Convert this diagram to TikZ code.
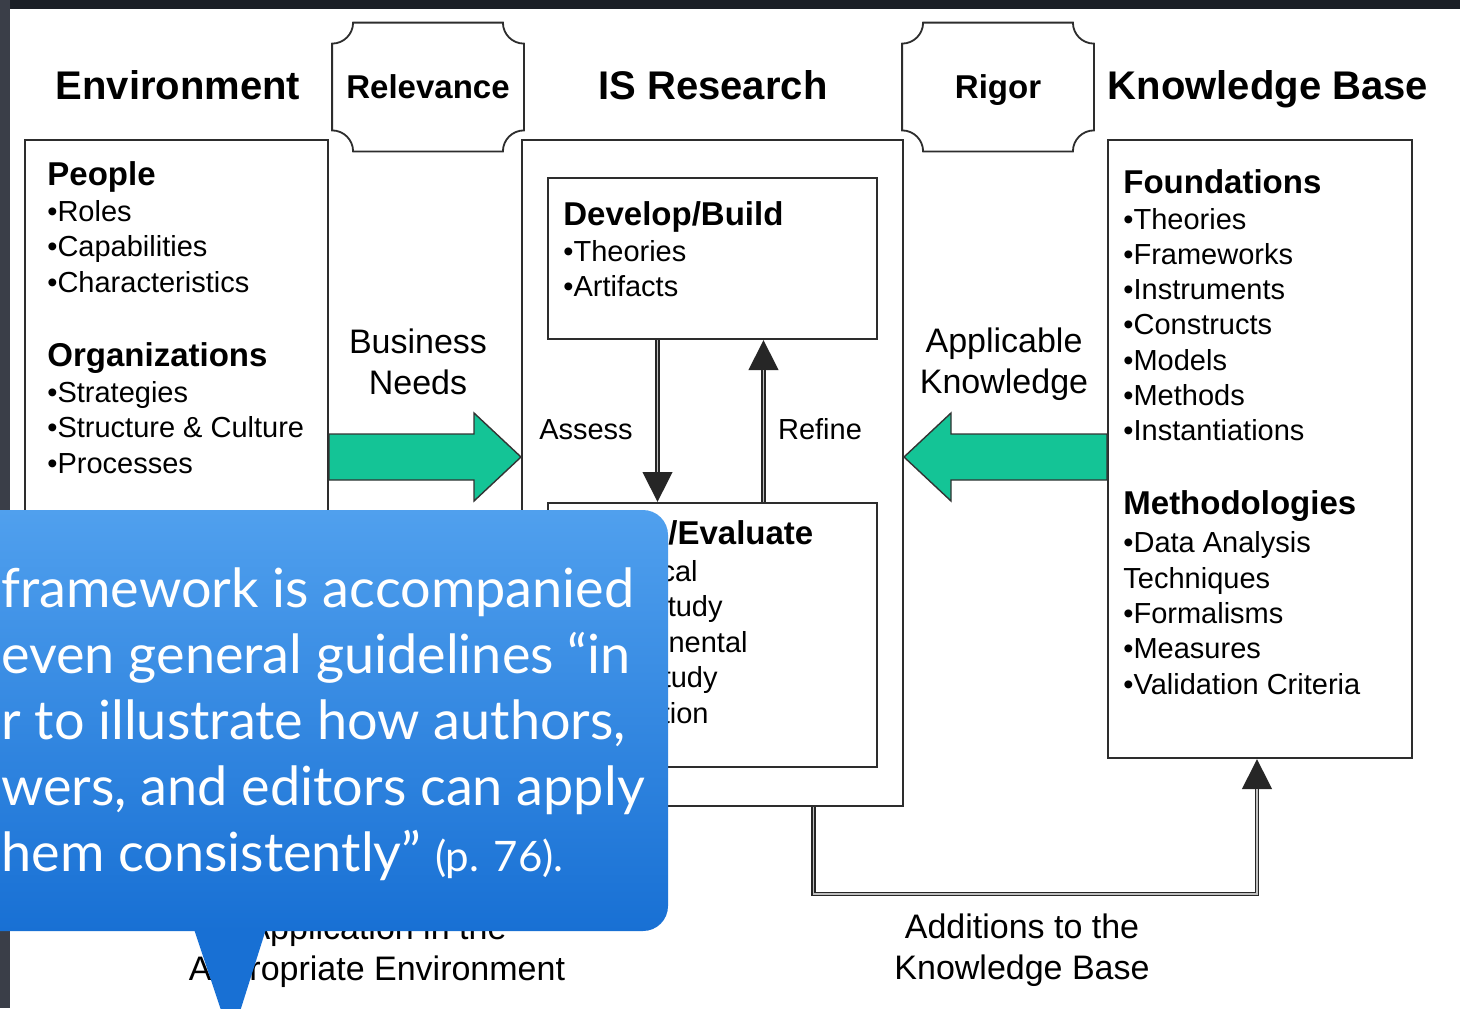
\documentclass[tikz,border=0pt]{standalone}
\usepackage{fontspec}
\setmainfont{Liberation Sans}
\newfontfamily\calloutfont{Lato}
\usepackage{xcolor}
\definecolor{arrowgreen}{RGB}{20,196,150}
\definecolor{calloutlight}{RGB}{80,160,238}
\definecolor{calloutdark}{RGB}{24,112,212}
\definecolor{frametop}{RGB}{27,31,38}
\definecolor{frameleft}{RGB}{58,62,72}
\definecolor{boxgray}{RGB}{45,45,45}
\usepackage{tikz}
\usetikzlibrary{calc}
\usetikzlibrary{arrows.meta}
\newcommand{\unitpx}{0.5pt}
\newcommand{\plaque}[1]{%
  \draw[plaqueline] ($(#1.north west)+(21,0)$) -- ($(#1.north east)+(-21,0)$)
    .. controls ($(#1.north east)+(-21,11.6)$) and ($(#1.north east)+(-11.6,21)$) .. ($(#1.north east)+(0,21)$)
    -- ($(#1.south east)+(0,-21)$)
    .. controls ($(#1.south east)+(-11.6,-21)$) and ($(#1.south east)+(-21,-11.6)$) .. ($(#1.south east)+(-21,0)$)
    -- ($(#1.south west)+(21,0)$)
    .. controls ($(#1.south west)+(21,-11.6)$) and ($(#1.south west)+(11.6,-21)$) .. ($(#1.south west)+(0,-21)$)
    -- ($(#1.north west)+(0,21)$)
    .. controls ($(#1.north west)+(11.6,21)$) and ($(#1.north west)+(21,11.6)$) .. ($(#1.north west)+(21,0)$) -- cycle;}
\newcommand{\fatarrow}[3]{% tail, tip, direction
  \draw[bigarrow] ($(#1)+(0,-23)$) -- ($(#2)+(-47*#3,-23)$) -- ($(#2)+(-47*#3,-44)$) -- (#2)
    -- ($(#2)+(-47*#3,44)$) -- ($(#2)+(-47*#3,23)$) -- ($(#1)+(0,23)$) -- cycle;}
\tikzset{
    box/.style={draw=boxgray, line width=1pt, inner sep=0},
    title/.style={font=\fontsize{20}{24}\selectfont\bfseries, anchor=base, inner sep=0},
    plaque/.style={font=\fontsize{16.5}{20}\selectfont\bfseries, inner sep=0, text depth=0pt,
        minimum width=191*\unitpx, minimum height=128*\unitpx},
    plaqueline/.style={draw=boxgray, line width=0.9pt},
    head/.style={font=\fontsize{16.5}{20}\selectfont\bfseries, anchor=base west, inner sep=0},
    item/.style={font=\fontsize{14.5}{17.5}\selectfont, anchor=base west, inner sep=0},
    label/.style={font=\fontsize{17}{20.5}\selectfont, align=center, inner sep=0},
    smalllabel/.style={font=\fontsize{14.5}{17.5}\selectfont, anchor=base, inner sep=0},
    bigarrow/.style={draw=black!80, line width=0.7pt, fill=arrowgreen, line join=miter},
    flow/.style={draw=black!85, line width=2.2pt, -{Triangle[length=15pt,width=14.5pt]}},
    flowcore/.style={draw=black!25, line width=0.8pt, shorten >=15pt},
    calltext/.style={font=\calloutfont\fontsize{27}{32}\selectfont, text=white, anchor=base west, inner sep=0}
}

\begin{document}
\begin{tikzpicture}[x=0.5pt, y=-0.5pt]
  \useasboundingbox (0,0) rectangle (1460,1008);
  \fill[white] (0,0) rectangle (1460,1008);
  \fill[frametop] (0,0) rectangle (1460,9);
  \fill[frameleft] (0,0) rectangle (10,1008);

  % column titles
  \node[title] (envtitle) at (178,99) {Environment};
  \node[title] (istitle) at (713,99) {IS Research};
  \node[title] (kbtitle) at (1268,99) {Knowledge Base};
  \node[plaque] (relevance) at (428,87) {Relevance};
  \node[plaque] (rigor) at (998,87) {Rigor};
  \plaque{relevance}
  \plaque{rigor}

  % boxes
  \node[box, minimum width=303*\unitpx, minimum height=634*\unitpx] (env) at (176.5,457) {};
  \node[box, minimum width=381*\unitpx, minimum height=666*\unitpx] (isr) at (712.5,473) {};
  \node[box, minimum width=329*\unitpx, minimum height=161*\unitpx] (dev) at (712.5,258.5) {};
  \node[box, minimum width=329*\unitpx, minimum height=264*\unitpx] (eval) at (712.5,635) {};
  \node[box, minimum width=304*\unitpx, minimum height=618*\unitpx] (kb) at (1260,449) {};

  \path (47,185) node[head] (people) {People}
      ++(0,36) node[item] (roles) {•Roles}
      ++(0,35.5) node[item] (capab) {•Capabilities}
      ++(0,35.5) node[item] (charac) {•Characteristics}
      ++(0,74) node[head] (orgs) {Organizations}
      ++(0,36) node[item] (strat) {•Strategies}
      ++(0,35.5) node[item] (struct) {•Structure \& Culture}
      ++(0,35.5) node[item] (procs) {•Processes};

  \path (563,225) node[head] (devhead) {Develop/Build}
      ++(0,36) node[item] (devtheo) {•Theories}
      ++(0,35) node[item] (devart) {•Artifacts};

  \node[head] (evalhead) at (668,544) {/Evaluate};
  \node[item, anchor=base east] (analyt) at (698,581) {cal};
  \node[item, anchor=base east] (casest) at (723,616) {tudy};
  \node[item, anchor=base east] (experi) at (748,652) {nental};
  \node[item, anchor=base east] (fieldst) at (718,687) {tudy};
  \node[item, anchor=base east] (simul) at (709,723) {tion};

  \path (1123,193) node[head] (found) {Foundations}
      ++(0,36) node[item] (kbtheo) {•Theories}
      ++(0,35.3) node[item] (frames) {•Frameworks}
      ++(0,35.3) node[item] (instr) {•Instruments}
      ++(0,35.3) node[item] (constr) {•Constructs}
      ++(0,35.3) node[item] (models) {•Models}
      ++(0,35.3) node[item] (methods) {•Methods}
      ++(0,35.3) node[item] (instant) {•Instantiations}
      ++(0,74) node[head] (methodo) {Methodologies}
      ++(0,38) node[item] (dataan) {•Data Analysis}
      ++(0,35.3) node[item] (techn) {Techniques}
      ++(0,35.3) node[item] (formal) {•Formalisms}
      ++(0,35.3) node[item] (measur) {•Measures}
      ++(0,35.3) node[item] (valid) {•Validation Criteria};

  % labels
  \node[label] (needs) at (418,362) {Business\\Needs};
  \node[label] (applic) at (1004,364) {Applicable\\Knowledge};
  \node[smalllabel] (assess) at (586,439) {Assess};
  \node[smalllabel] (refine) at (820,439) {Refine};
  \node[label] (additions) at (1022,950) {Additions to the\\Knowledge Base};
  \node[label] (applin) at (377,951) {Application in the\\Appropriate Environment};

  % connectors
  \coordinate (needtip) at (isr.west |- env.east);
  \coordinate (knowtail) at (kb.west |- env.east);
  \coordinate (knowtip) at (isr.east |- env.east);
  \fatarrow{env.east}{needtip}{1}
  \fatarrow{knowtail}{knowtip}{-1}

  \draw[flow] ($(dev.south)+(-55,0)$) -- ($(eval.north)+(-55,0)$);
  \draw[flowcore] ($(dev.south)+(-55,0)$) -- ($(eval.north)+(-55,0)$);
  \draw[flow] ($(eval.north)+(51,0)$) -- ($(dev.south)+(51,0)$);
  \draw[flowcore] ($(eval.north)+(51,0)$) -- ($(dev.south)+(51,0)$);
  \coordinate (addbend) at ($(kb.south)+(-3,135)$);
  \draw[flow] ($(isr.south)+(101,0)$) |- (addbend) -- ($(kb.south)+(-3,0)$);
  \draw[flowcore] ($(isr.south)+(101,0)$) |- (addbend) -- ($(kb.south)+(-3,0)$);

  % callout
  \fill[calloutdark] (193,926) -- (231,1040) -- (267,926) -- cycle;
  \shade[top color=calloutlight, bottom color=calloutdark, rounded corners=12.5pt] (-40,510) rectangle (668,931);
  \path (1,607) node[calltext] (quote1) {framework is accompanied}
      ++(0,66) node[calltext] (quote2) {even general guidelines “in}
      ++(0,66) node[calltext] (quote3) {r to illustrate how authors,}
      ++(0,66) node[calltext] (quote4) {wers, and editors can apply}
      ++(0,66) node[calltext] (quote5) {hem consistently” {\fontsize{21}{25}\selectfont (p. 76).}};
\end{tikzpicture}
\end{document}
